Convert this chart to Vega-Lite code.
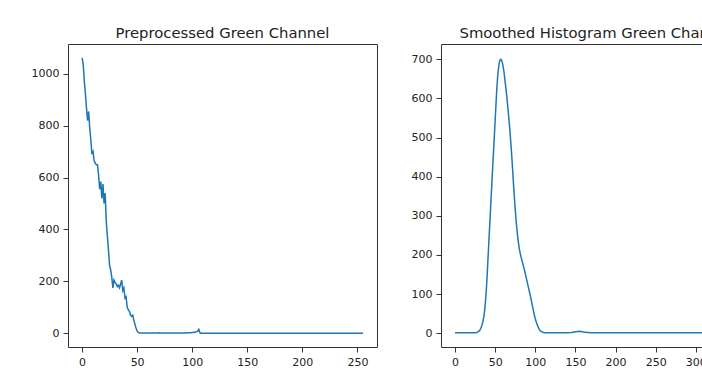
{
  "$schema": "https://vega.github.io/schema/vega-lite/v6.json",
  "padding": {"left": 27, "top": 25, "right": 0, "bottom": 5},
  "background": "white",
  "config": {
    "view": {"stroke": "#333", "strokeWidth": 1},
    "axis": {"grid": false, "domain": false, "tickColor": "#333", "tickSize": 5, "labelFont": "DejaVu Sans", "labelFontSize": 11, "labelColor": "#222", "labelPadding": 4, "format": "d"},
    "title": {"font": "DejaVu Sans", "fontSize": 14.8, "fontWeight": "normal", "color": "#222", "offset": 3},
    "concat": {"spacing": 22},
    "line": {"color": "#1f77b4", "strokeWidth": 1.5}
  },
  "datasets": {
    "left": [
      {"x":0,"y":1062},{"x":1,"y":1040},{"x":2,"y":975},{"x":3,"y":925},{"x":4,"y":870},{"x":5,"y":820},{"x":6,"y":855},{"x":7,"y":790},{"x":8,"y":745},{"x":9,"y":690},
      {"x":10,"y":700},{"x":11,"y":665},{"x":12,"y":655},{"x":13,"y":650},{"x":14,"y":650},{"x":15,"y":610},{"x":16,"y":555},{"x":17,"y":585},{"x":18,"y":520},{"x":19,"y":575},
      {"x":20,"y":500},{"x":21,"y":540},{"x":22,"y":430},{"x":23,"y":375},{"x":24,"y":320},{"x":25,"y":260},{"x":26,"y":245},{"x":27,"y":215},{"x":28,"y":175},{"x":29,"y":205},
      {"x":30,"y":195},{"x":31,"y":190},{"x":32,"y":180},{"x":33,"y":185},{"x":34,"y":175},{"x":35,"y":190},{"x":36,"y":205},{"x":37,"y":165},{"x":38,"y":175},{"x":39,"y":135},
      {"x":40,"y":140},{"x":41,"y":100},{"x":42,"y":90},{"x":43,"y":85},{"x":44,"y":70},{"x":45,"y":65},{"x":46,"y":70},{"x":47,"y":50},{"x":48,"y":35},{"x":49,"y":20},
      {"x":50,"y":8},{"x":51,"y":3},{"x":52,"y":1},{"x":53,"y":1},{"x":54,"y":1},{"x":55,"y":1},{"x":56,"y":1},{"x":57,"y":1},{"x":58,"y":1},{"x":59,"y":1},
      {"x":60,"y":1},{"x":61,"y":1},{"x":62,"y":1},{"x":63,"y":1},{"x":64,"y":1},{"x":65,"y":1},{"x":66,"y":1},{"x":67,"y":1},{"x":68,"y":1},{"x":69,"y":1},
      {"x":70,"y":2},{"x":71,"y":1},{"x":72,"y":1},{"x":73,"y":1},{"x":74,"y":1},{"x":75,"y":1},{"x":76,"y":1},{"x":77,"y":1},{"x":78,"y":1},{"x":79,"y":1},
      {"x":80,"y":1},{"x":81,"y":1},{"x":82,"y":1},{"x":83,"y":1},{"x":84,"y":1},{"x":85,"y":1},{"x":86,"y":1},{"x":87,"y":1},{"x":88,"y":1},{"x":89,"y":1},
      {"x":90,"y":1},{"x":91,"y":1},{"x":92,"y":1},{"x":93,"y":1},{"x":94,"y":1},{"x":95,"y":2},{"x":96,"y":2},{"x":97,"y":2},{"x":98,"y":2},{"x":99,"y":2},
      {"x":100,"y":3},{"x":101,"y":3},{"x":102,"y":4},{"x":103,"y":5},{"x":104,"y":6},{"x":105,"y":8},{"x":106,"y":15},{"x":107,"y":2},{"x":108,"y":0},{"x":109,"y":0},
      {"x":110,"y":0},{"x":111,"y":0},{"x":112,"y":0},{"x":113,"y":0},{"x":114,"y":0},{"x":115,"y":0},{"x":116,"y":0},{"x":117,"y":0},{"x":118,"y":0},{"x":119,"y":0},
      {"x":120,"y":0},{"x":121,"y":0},{"x":122,"y":0},{"x":123,"y":0},{"x":124,"y":0},{"x":125,"y":0},{"x":126,"y":0},{"x":127,"y":0},{"x":128,"y":0},{"x":129,"y":0},
      {"x":130,"y":0},{"x":131,"y":0},{"x":132,"y":0},{"x":133,"y":0},{"x":134,"y":0},{"x":135,"y":0},{"x":136,"y":0},{"x":137,"y":0},{"x":138,"y":0},{"x":139,"y":0},
      {"x":140,"y":0},{"x":141,"y":0},{"x":142,"y":0},{"x":143,"y":0},{"x":144,"y":0},{"x":145,"y":0},{"x":146,"y":0},{"x":147,"y":0},{"x":148,"y":0},{"x":149,"y":0},
      {"x":150,"y":0},{"x":151,"y":0},{"x":152,"y":0},{"x":153,"y":0},{"x":154,"y":0},{"x":155,"y":0},{"x":156,"y":0},{"x":157,"y":0},{"x":158,"y":0},{"x":159,"y":0},
      {"x":160,"y":0},{"x":161,"y":0},{"x":162,"y":0},{"x":163,"y":0},{"x":164,"y":0},{"x":165,"y":0},{"x":166,"y":0},{"x":167,"y":0},{"x":168,"y":0},{"x":169,"y":0},
      {"x":170,"y":0},{"x":171,"y":0},{"x":172,"y":0},{"x":173,"y":0},{"x":174,"y":0},{"x":175,"y":0},{"x":176,"y":0},{"x":177,"y":0},{"x":178,"y":0},{"x":179,"y":0},
      {"x":180,"y":0},{"x":181,"y":0},{"x":182,"y":0},{"x":183,"y":0},{"x":184,"y":0},{"x":185,"y":0},{"x":186,"y":0},{"x":187,"y":0},{"x":188,"y":0},{"x":189,"y":0},
      {"x":190,"y":0},{"x":191,"y":0},{"x":192,"y":0},{"x":193,"y":0},{"x":194,"y":0},{"x":195,"y":0},{"x":196,"y":0},{"x":197,"y":0},{"x":198,"y":0},{"x":199,"y":0},
      {"x":200,"y":0},{"x":201,"y":0},{"x":202,"y":0},{"x":203,"y":0},{"x":204,"y":0},{"x":205,"y":0},{"x":206,"y":0},{"x":207,"y":0},{"x":208,"y":0},{"x":209,"y":0},
      {"x":210,"y":0},{"x":211,"y":0},{"x":212,"y":0},{"x":213,"y":0},{"x":214,"y":0},{"x":215,"y":0},{"x":216,"y":0},{"x":217,"y":0},{"x":218,"y":0},{"x":219,"y":0},
      {"x":220,"y":0},{"x":221,"y":0},{"x":222,"y":0},{"x":223,"y":0},{"x":224,"y":0},{"x":225,"y":0},{"x":226,"y":0},{"x":227,"y":0},{"x":228,"y":0},{"x":229,"y":0},
      {"x":230,"y":0},{"x":231,"y":0},{"x":232,"y":0},{"x":233,"y":0},{"x":234,"y":0},{"x":235,"y":0},{"x":236,"y":0},{"x":237,"y":0},{"x":238,"y":0},{"x":239,"y":0},
      {"x":240,"y":0},{"x":241,"y":0},{"x":242,"y":0},{"x":243,"y":0},{"x":244,"y":0},{"x":245,"y":0},{"x":246,"y":0},{"x":247,"y":0},{"x":248,"y":0},{"x":249,"y":0},
      {"x":250,"y":0},{"x":251,"y":0},{"x":252,"y":0},{"x":253,"y":0},{"x":254,"y":0},{"x":255,"y":0}
    ],
    "right": [
      {"x":0,"y":1},{"x":5,"y":1},{"x":10,"y":1},{"x":15,"y":1},{"x":20,"y":1},{"x":25,"y":1},{"x":26,"y":1},{"x":27,"y":2},{"x":28,"y":3},{"x":29,"y":4},
      {"x":30,"y":6},{"x":31,"y":8},{"x":32,"y":12},{"x":33,"y":17},{"x":34,"y":24},{"x":35,"y":32},{"x":36,"y":44},{"x":37,"y":61},{"x":38,"y":84},{"x":39,"y":111},
      {"x":40,"y":148},{"x":41,"y":188},{"x":42,"y":228},{"x":43,"y":268},{"x":44,"y":308},{"x":45,"y":348},{"x":46,"y":388},{"x":47,"y":428},{"x":48,"y":466},{"x":49,"y":505},
      {"x":50,"y":545},{"x":51,"y":585},{"x":52,"y":623},{"x":53,"y":653},{"x":54,"y":675},{"x":55,"y":690},{"x":56,"y":698},{"x":57,"y":700},{"x":58,"y":698},{"x":59,"y":691},
      {"x":60,"y":681},{"x":61,"y":667},{"x":62,"y":650},{"x":63,"y":632},{"x":64,"y":614},{"x":65,"y":594},{"x":66,"y":573},{"x":67,"y":550},{"x":68,"y":527},{"x":69,"y":500},
      {"x":70,"y":472},{"x":71,"y":442},{"x":72,"y":410},{"x":73,"y":376},{"x":74,"y":345},{"x":75,"y":316},{"x":76,"y":290},{"x":77,"y":267},{"x":78,"y":248},{"x":79,"y":231},
      {"x":80,"y":217},{"x":81,"y":206},{"x":82,"y":197},{"x":83,"y":189},{"x":84,"y":181},{"x":85,"y":173},{"x":86,"y":165},{"x":87,"y":157},{"x":88,"y":148},{"x":89,"y":139},
      {"x":90,"y":130},{"x":91,"y":121},{"x":92,"y":112},{"x":93,"y":103},{"x":94,"y":94},{"x":95,"y":84},{"x":96,"y":74},{"x":97,"y":64},{"x":98,"y":54},{"x":99,"y":45},
      {"x":100,"y":37},{"x":101,"y":30},{"x":102,"y":24},{"x":103,"y":18},{"x":104,"y":14},{"x":105,"y":10},{"x":106,"y":7},{"x":107,"y":5},{"x":108,"y":4},{"x":109,"y":3},
      {"x":110,"y":2},{"x":112,"y":1},{"x":115,"y":1},{"x":120,"y":1},{"x":130,"y":1},{"x":140,"y":1},{"x":145,"y":2},{"x":150,"y":4},{"x":155,"y":5},{"x":160,"y":3},
      {"x":165,"y":2},{"x":170,"y":1},{"x":180,"y":1},{"x":200,"y":1},{"x":220,"y":1},{"x":240,"y":1},{"x":260,"y":1},{"x":280,"y":1},{"x":300,"y":1},{"x":320,"y":1},
      {"x":340,"y":1},{"x":350,"y":1}
    ]
  },
  "hconcat": [
    {
      "title": "Preprocessed Green Channel",
      "width": 309, "height": 303,
      "data": {"name": "left"},
      "mark": {"type": "line", "clip": true},
      "encoding": {
        "x": {"field": "x", "type": "quantitative", "title": null,
              "scale": {"domain": [-12.75, 267.75], "nice": false, "zero": false},
              "axis": {"values": [0, 50, 100, 150, 200, 250]}},
        "y": {"field": "y", "type": "quantitative", "title": null,
              "scale": {"domain": [-53.1, 1115.1], "nice": false, "zero": false},
              "axis": {"values": [0, 200, 400, 600, 800, 1000], "minExtent": 40, "maxExtent": 40}}
      }
    },
    {
      "title": "Smoothed Histogram Green Channel",
      "width": 309, "height": 303,
      "data": {"name": "right"},
      "mark": {"type": "line", "clip": true},
      "encoding": {
        "x": {"field": "x", "type": "quantitative", "title": null,
              "scale": {"domain": [-17.5, 367.5], "nice": false, "zero": false},
              "axis": {"values": [0, 50, 100, 150, 200, 250, 300, 350]}},
        "y": {"field": "y", "type": "quantitative", "title": null,
              "scale": {"domain": [-35.2, 739.2], "nice": false, "zero": false},
              "axis": {"values": [0, 100, 200, 300, 400, 500, 600, 700], "minExtent": 40, "maxExtent": 40}}
      }
    }
  ]
}
